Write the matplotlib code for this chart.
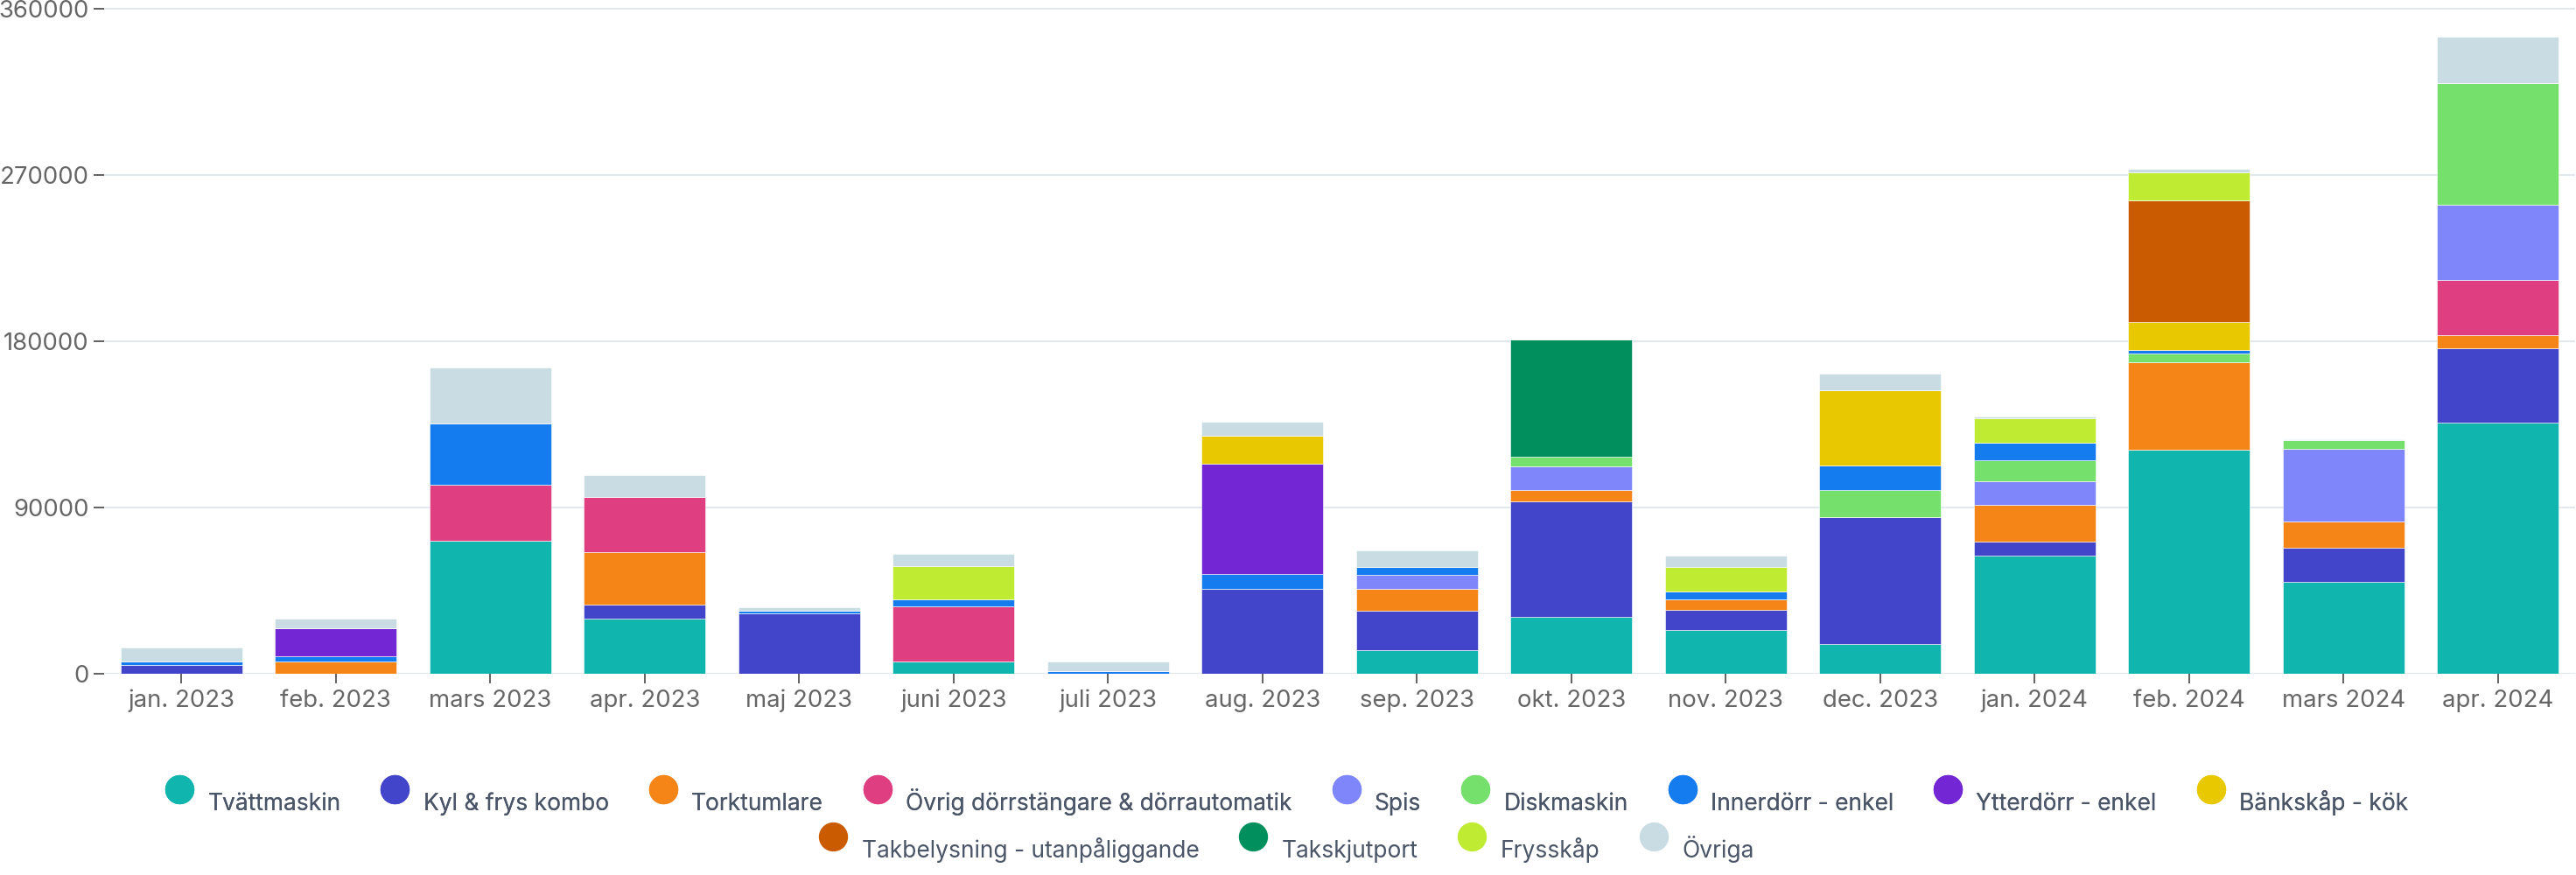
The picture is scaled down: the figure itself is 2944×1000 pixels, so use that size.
import matplotlib
matplotlib.use("Agg")
import matplotlib.pyplot as plt
import numpy as np
from matplotlib.lines import Line2D
from matplotlib.legend_handler import HandlerLine2D

plt.rcParams['font.family'] = ['Inter', 'DejaVu Sans']

months = ['jan. 2023', 'feb. 2023', 'mars 2023', 'apr. 2023', 'maj 2023', 'juni 2023',
          'juli 2023', 'aug. 2023', 'sep. 2023', 'okt. 2023', 'nov. 2023', 'dec. 2023',
          'jan. 2024', 'feb. 2024', 'mars 2024', 'apr. 2024']

series_names = ['Tvättmaskin', 'Kyl & frys kombo', 'Torktumlare',
                'Övrig dörrstängare & dörrautomatik', 'Spis', 'Diskmaskin',
                'Innerdörr - enkel', 'Ytterdörr - enkel', 'Bänkskåp - kök',
                'Takbelysning - utanpåliggande', 'Takskjutport', 'Frysskåp', 'Övriga']

tvattmaskin = [0, 0, 72000, 29700, 0, 6200, 0, 0, 12800, 30400, 23700, 15900, 64000, 121000, 49500, 135700]
kyl_frys = [4400, 0, 0, 7600, 32600, 0, 0, 45900, 20900, 62900, 10500, 68900, 7500, 0, 18300, 40400]
torktumlare = [0, 6550, 0, 28350, 0, 0, 0, 0, 12000, 6050, 6000, 0, 20000, 47700, 14300, 7250]
ovrig_dorr = [0, 0, 30000, 29750, 0, 30000, 0, 0, 0, 0, 0, 0, 0, 0, 0, 29900]
spis = [0, 0, 0, 0, 0, 0, 0, 0, 7600, 12950, 0, 0, 12800, 0, 39300, 40650]
diskmaskin = [0, 0, 0, 0, 0, 0, 0, 0, 0, 5100, 0, 14600, 11200, 4500, 4900, 65800]
innerdorr = [2200, 2700, 33400, 0, 1100, 4000, 1300, 7900, 4300, 0, 4250, 13300, 9200, 2000, 0, 0]
ytterdorr = [0, 15000, 0, 0, 0, 0, 0, 59800, 0, 0, 0, 0, 0, 0, 0, 0]
bankskap = [0, 0, 0, 0, 0, 0, 0, 14900, 0, 0, 0, 40900, 0, 15300, 0, 0]
takbelysning = [0, 0, 0, 0, 0, 0, 0, 0, 0, 0, 0, 0, 0, 65800, 0, 0]
takskjutport = [0, 0, 0, 0, 0, 0, 0, 0, 0, 63300, 0, 0, 0, 0, 0, 0]
frysskap = [0, 0, 0, 0, 0, 18000, 0, 0, 0, 0, 13150, 0, 13400, 15100, 0, 0]
ovriga = [7200, 5350, 30200, 12000, 1900, 6500, 5000, 8000, 8850, 0, 6000, 8800, 900, 1800, 500, 25300]

series_values = [tvattmaskin, kyl_frys, torktumlare, ovrig_dorr, spis, diskmaskin,
                 innerdorr, ytterdorr, bankskap, takbelysning, takskjutport, frysskap, ovriga]

colors = ['#10b5ae', '#4245c9', '#f58516', '#df3e80', '#7f86fa', '#75e06c',
          '#157cf0', '#7226d4', '#e8c800', '#cb5b00', '#018f5e', '#bfeb33', '#c9dce3']

yticks = [0, 90000, 180000, 270000, 360000]

W, H = 2944, 1000
fig = plt.figure(figsize=(W / 100, H / 100), dpi=100)
ax = fig.add_axes([119 / W, 1 - 769.5 / H, (2943 - 119) / W, (769.5 - 4) / H])

x = np.arange(len(months))
bottom = np.zeros(len(months))
handles = []
for name, vals, col in zip(series_names, series_values, colors):
    v = np.array(vals, dtype=float)
    ax.bar(x, v, bottom=bottom, width=0.79, color=col, edgecolor='white',
           linewidth=0.4, zorder=3)
    bottom += v
    handles.append(Line2D([], [], marker='o', linestyle='none', markersize=23,
                          markerfacecolor=col, markeredgecolor=col, label=name))

ax.set_xlim(-0.5, len(months) - 0.5)
ax.set_ylim(0, 360000 + 6.2 * 474.2)
ax.set_yticks(yticks)
ax.set_yticklabels([str(t) for t in yticks])
ax.set_xticks(x)
ax.set_xticklabels(months)

for s in ax.spines.values():
    s.set_visible(False)
ax.yaxis.grid(True, color='#e3e8ef', linewidth=1.5, zorder=0)
ax.set_axisbelow(True)
ax.tick_params(axis='y', length=8.5, width=1.3, color='#555555', pad=4,
               labelsize=19.8, labelcolor='#666666')
ax.tick_params(axis='x', length=8, width=1.3, color='#555555', pad=5,
               labelsize=19.8, labelcolor='#666666')


class UpHandler(HandlerLine2D):
    def create_artists(self, legend, orig_handle, xdescent, ydescent, width, height,
                       fontsize, trans):
        arts = super().create_artists(legend, orig_handle, xdescent, ydescent - 20,
                                      width, height, fontsize, trans)
        return arts


hmap = {h: UpHandler() for h in handles}
common = dict(loc='center', frameon=False, fontsize=19, labelcolor='#4a5568',
              handlelength=1.0, handletextpad=0.72, columnspacing=1.85,
              handler_map=hmap)
leg1 = fig.legend(handles=handles[:9], bbox_to_anchor=(0.5, 1 - 916 / H), ncol=9, **common)
fig.add_artist(leg1)
leg2 = fig.legend(handles=handles[9:], bbox_to_anchor=(0.5, 1 - 970 / H), ncol=4, **common)

fig.savefig('out.png', dpi=100, facecolor='white')
